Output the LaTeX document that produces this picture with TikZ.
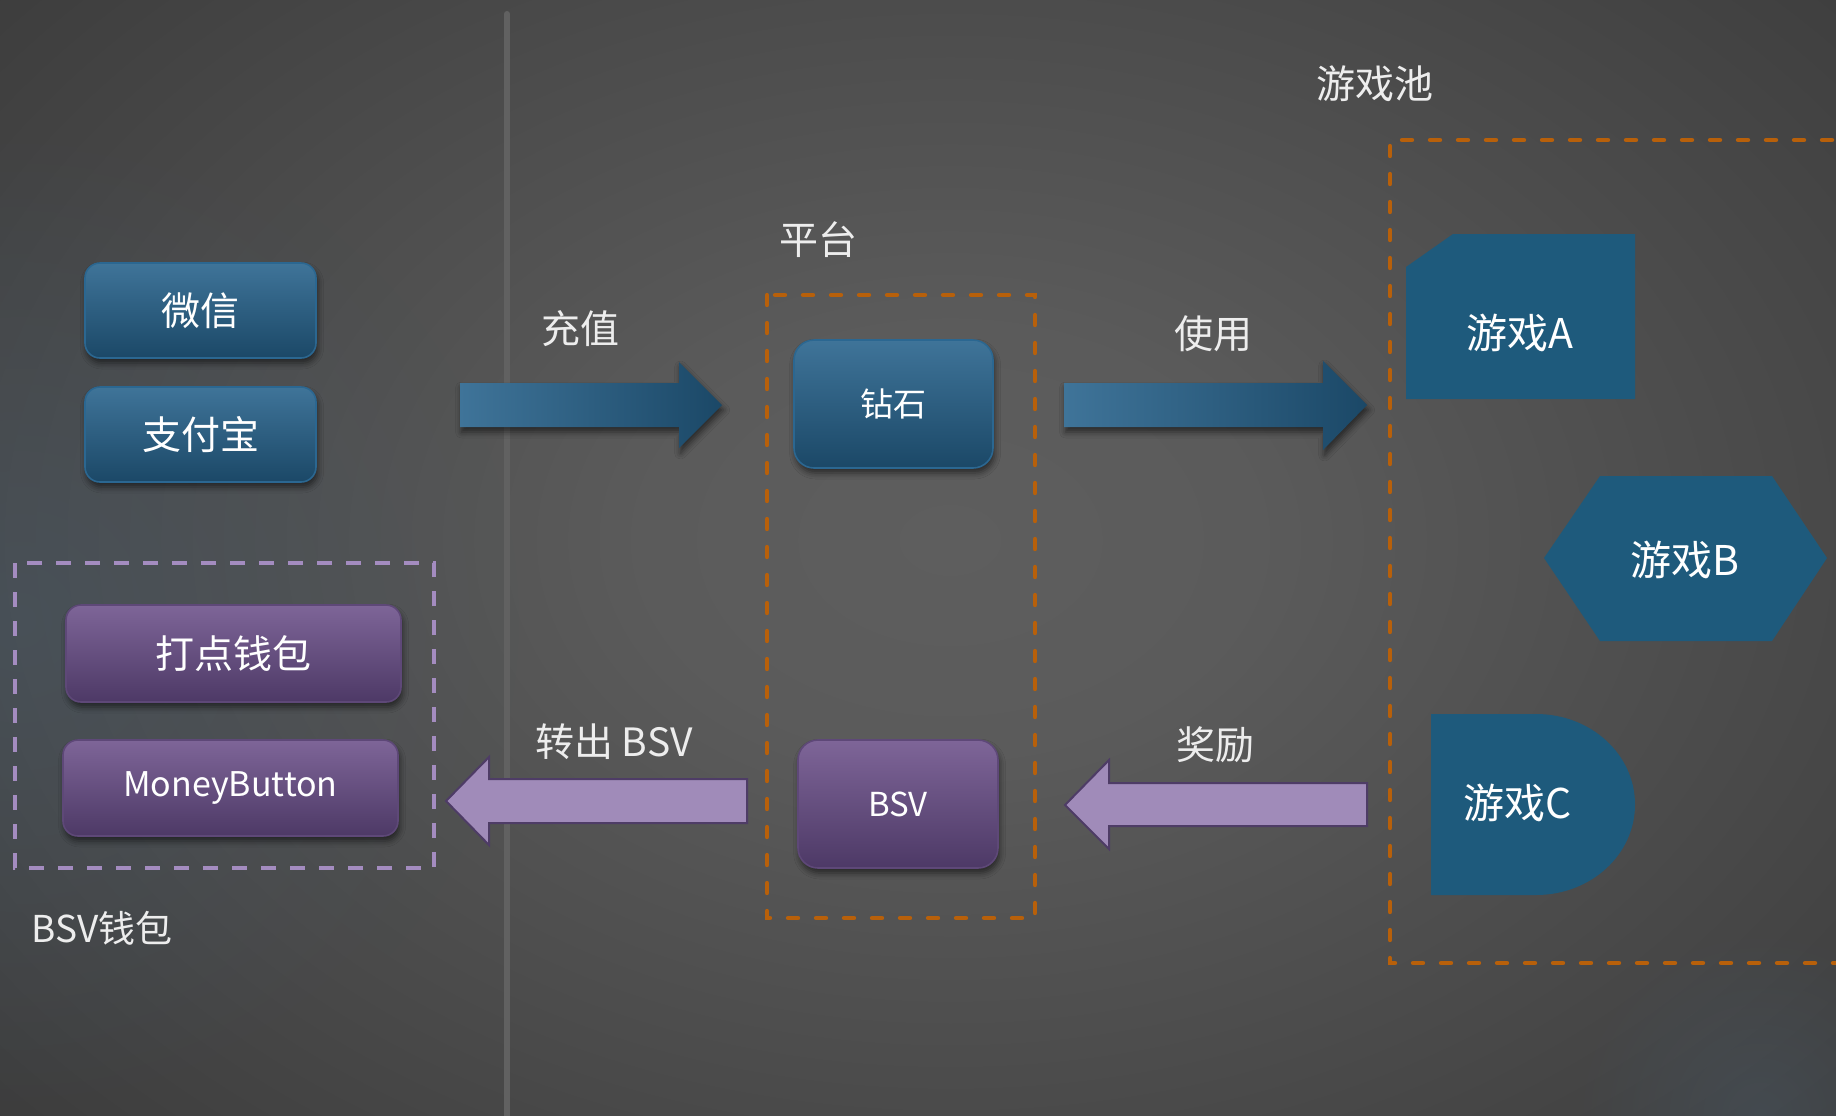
\documentclass[tikz,border=0pt]{standalone}
\usepackage{fontspec}
\setmainfont{Noto Sans CJK SC}
\usetikzlibrary{shadows.blur,fadings}
\definecolor{bgc}{HTML}{5E5E5E}
\definecolor{bgm}{HTML}{5B5B5B}
\definecolor{bgo}{HTML}{282828}
\definecolor{blueT}{HTML}{3F7499}
\definecolor{blueB}{HTML}{1B4867}
\definecolor{blueE}{HTML}{2B6791}
\definecolor{purT}{HTML}{7E6598}
\definecolor{purB}{HTML}{4D3966}
\definecolor{purE}{HTML}{5E4878}
\definecolor{arrP}{HTML}{A08BB9}
\definecolor{arrPE}{HTML}{4E3C66}
\definecolor{gamec}{HTML}{1E5A7C}
\definecolor{orng}{HTML}{B8600A}
\definecolor{lav}{HTML}{A48CC0}
\definecolor{vline}{HTML}{616161}
\definecolor{glowc}{HTML}{4A5A68}
\pgfdeclareradialshading{bgshade}{\pgfpoint{0bp}{0bp}}{color(0bp)=(bgc); color(8bp)=(bgm); color(50bp)=(bgo)}
\tikzfading[name=glowfade, inner color=transparent!50, outer color=transparent!100]
\tikzfading[name=glowfadeB, inner color=transparent!60, outer color=transparent!100]
\tikzset{
  shad/.style={blur shadow={shadow xshift=0.8pt, shadow yshift=-2.5pt, shadow blur radius=3pt, shadow opacity=55}},
  bluebox/.style={rounded corners=7.5pt, top color=blueT, bottom color=blueB, draw=blueE, line width=0.8pt, text=white, shad},
  purbox/.style={rounded corners=7.5pt, top color=purT, bottom color=purB, draw=purE, line width=0.8pt, text=white, shad},
  bigtxt/.style={font=\fontsize{19.5}{21}\selectfont},
  midtxt/.style={font=\fontsize{16.5}{18}\selectfont},
  gametxt/.style={text=white, font=\fontsize{20.5}{22}\selectfont},
  lbl/.style={text=white!93!black, font=\fontsize{19.5}{21}\selectfont},
  orangedash/.style={draw=orng, line width=2.2pt, line cap=round, dash pattern=on 5pt off 9pt},
  lavdash/.style={draw=lav, line width=2.2pt, dash pattern=on 7.5pt off 7pt},
  bluearrow/.style={left color=blueT, right color=blueB, shad},
  purarrow/.style={fill=arrP, draw=arrPE, line width=1pt},
}
\begin{document}
\begin{tikzpicture}[x=0.5pt,y=-0.5pt]
\useasboundingbox (0,0) rectangle (1836,1115);
% background
\begin{scope}
\clip (0,0) rectangle (1836,1115);
\shade[shading=bgshade] (0,-120) rectangle (1900,1200);
\fill[glowc, path fading=glowfade] (20,620) circle (500);
\fill[glowc, path fading=glowfadeB] (1760,1115) circle (190);
\end{scope}
% divider
\draw[vline, line width=3pt, line cap=round] (507,14) -- (507,1130);

% left: payment
\node[bluebox, bigtxt, minimum width=115.5pt, minimum height=47.5pt] (wx) at (200.5,310.5) {微信};
\node[bluebox, bigtxt, minimum width=115.5pt, minimum height=47.5pt] (zfb) at (200.5,434.5) {支付宝};

% wallet group
\draw[lavdash] (15,563) rectangle (434,868);
\node[purbox, bigtxt, minimum width=167.5pt, minimum height=48.5pt] (dd) at (233.5,653.5) {打点钱包};
\node[purbox, font=\fontsize{17}{19}\selectfont, minimum width=167.5pt, minimum height=48pt] (mb) at (230.5,788) {MoneyButton};
\node[lbl, font=\fontsize{18.5}{20}\selectfont] (bw) at (102,928) {BSV钱包};

% platform
\node[lbl] (pt) at (818,240) {平台};
\draw[orangedash] (767,295) rectangle (1035,918);
\node[bluebox, midtxt, rounded corners=10pt, minimum width=99.5pt, minimum height=64pt] (zs) at (893.5,404) {钻石};
\node[purbox, midtxt, rounded corners=10pt, minimum width=100pt, minimum height=64pt] (bsv) at (898,804) {BSV};

% arrows
\node[lbl] (cz) at (580,329) {充值};
\path[bluearrow] (460,383) -- (679,383) -- (679,362) -- (722,405) -- (679,448) -- (679,427) -- (460,427) -- cycle;
\node[lbl] (sy) at (1213,334) {使用};
\path[bluearrow] (1064,383) -- (1323,383) -- (1323,361) -- (1367,405) -- (1323,450) -- (1323,427) -- (1064,427) -- cycle;
\node[lbl] (zc) at (614,742) {转出 BSV};
\path[purarrow] (747,779) -- (489,779) -- (489,757) -- (446,801) -- (489,845) -- (489,823) -- (747,823) -- cycle;
\node[lbl] (jl) at (1215,745) {奖励};
\path[purarrow] (1367,783) -- (1109,783) -- (1109,760) -- (1065,805) -- (1109,849) -- (1109,826) -- (1367,826) -- cycle;

% game pool
\node[lbl] (pool) at (1375,84) {游戏池};
\draw[orangedash] (1860,140) -- (1390,140) -- (1390,963) -- (1860,963);
\fill[gamec] (1406,267) -- (1453,234) -- (1635,234) -- (1635,399) -- (1406,399) -- cycle;
\node[gametxt] (ga) at (1520,333) {游戏A};
\fill[gamec] (1544,558) -- (1600,476) -- (1772,476) -- (1827,558) -- (1772,641) -- (1600,641) -- cycle;
\node[gametxt] (gb) at (1685,560) {游戏B};
\fill[gamec] (1431,714) -- (1536,714) .. controls (1591,714) and (1635,754.5) .. (1635,804.5) .. controls (1635,854.5) and (1591,895) .. (1536,895) -- (1431,895) -- cycle;
\node[gametxt] (gc) at (1518,803) {游戏C};
\end{tikzpicture}
\end{document}
